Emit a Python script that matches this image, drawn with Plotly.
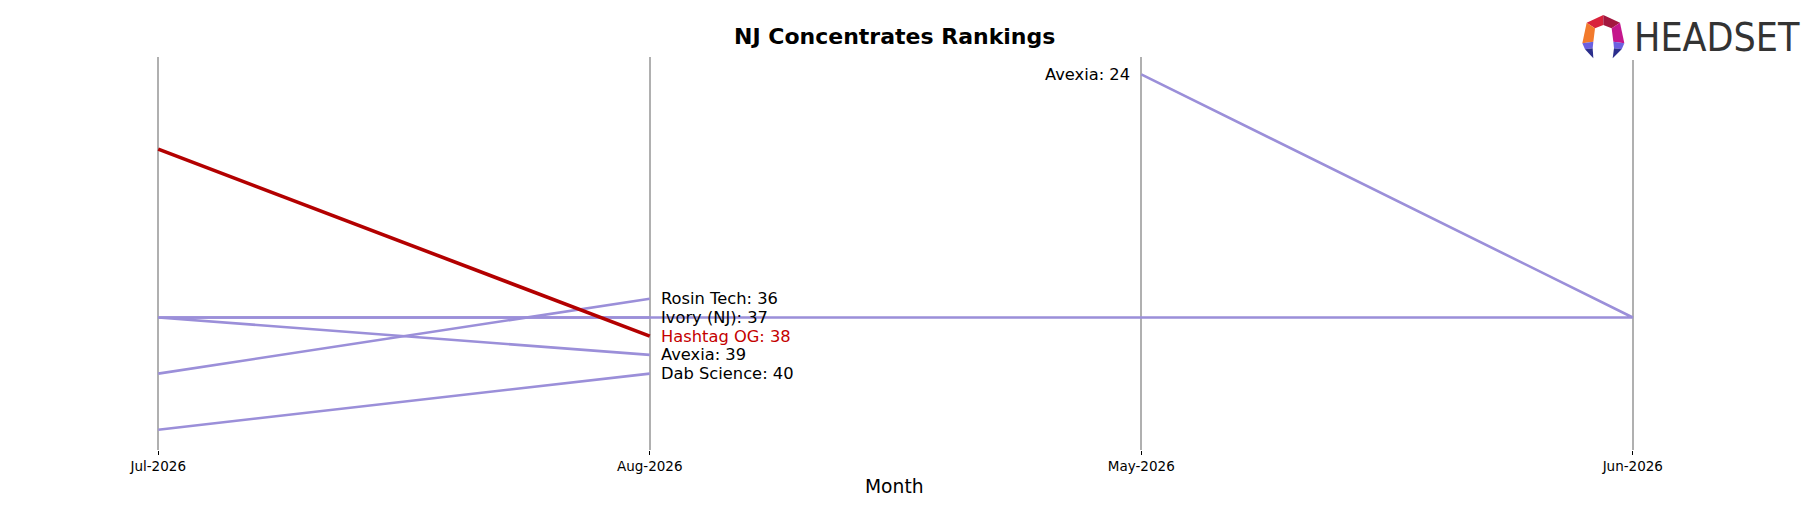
import plotly.graph_objects as go

# ---------------- data ----------------
months = ["Jul-2026", "Aug-2026", "May-2026", "Jun-2026"]

hashtag_x = ["Jul-2026", "Aug-2026"]
hashtag_y = [28, 38]

rosin_x = ["Jul-2026", "Aug-2026"]
rosin_y = [40, 36]

ivory_x = ["Jul-2026", "Aug-2026"]
ivory_y = [37, 37]

avexia_x = ["May-2026", "Jun-2026", "Jul-2026", "Aug-2026"]
avexia_y = [24, 37, 37, 39]

dab_x = ["Jul-2026", "Aug-2026"]
dab_y = [43, 40]

right_labels = [("Rosin Tech", 36), ("Ivory (NJ)", 37), ("Hashtag OG", 38),
                ("Avexia", 39), ("Dab Science", 40)]
left_labels = [("Avexia", 24)]
highlight = "Hashtag OG"

# ---------------- style ----------------
W, H = 1818, 506
ML, MR, MT, MB = 0, 0, 57, 56
PURPLE = "#9b8fd9"
RED = "#b30000"
LABEL_RED = "#c40000"
FONT = "DejaVu Sans"


def px_x(px):
    return (px - ML) / (W - ML - MR)


def px_y(py):
    return (H - MB - py) / (H - MT - MB)


fig = go.Figure()

for name, xs, ys in [("Rosin Tech", rosin_x, rosin_y),
                     ("Ivory (NJ)", ivory_x, ivory_y),
                     ("Avexia", avexia_x, avexia_y),
                     ("Dab Science", dab_x, dab_y)]:
    fig.add_trace(go.Scatter(x=xs, y=ys, mode="lines", name=name,
                             line=dict(color=PURPLE, width=2.6),
                             showlegend=False, hoverinfo="skip"))

fig.add_trace(go.Scatter(x=hashtag_x, y=hashtag_y, mode="lines", name="Hashtag OG",
                         line=dict(color=RED, width=3.6),
                         showlegend=False, hoverinfo="skip"))

annotations = []
for name, rank in right_labels:
    annotations.append(dict(
        x="Aug-2026", y=rank, xref="x", yref="y",
        text=f"{name}: {rank}", showarrow=False,
        xanchor="left", yanchor="middle", xshift=9,
        font=dict(family=FONT, size=16.3,
                  color=LABEL_RED if name == highlight else "black")))
for name, rank in left_labels:
    annotations.append(dict(
        x="May-2026", y=rank, xref="x", yref="y",
        text=f"{name}: {rank}", showarrow=False,
        xanchor="right", yanchor="middle", xshift=-9,
        font=dict(family=FONT, size=16.3,
                  color=LABEL_RED if name == highlight else "black")))

# title
annotations.append(dict(
    x=px_x(894.7), y=px_y(36.8), xref="paper", yref="paper",
    text="<b>NJ Concentrates Rankings</b>", showarrow=False,
    xanchor="center", yanchor="middle",
    font=dict(family=FONT, size=22, color="black")))
# x-axis title
annotations.append(dict(
    x=px_x(894.8), y=px_y(487), xref="paper", yref="paper",
    text="Month", showarrow=False, xanchor="center", yanchor="middle",
    font=dict(family=FONT, size=18.7, color="black")))
# logo text
annotations.append(dict(
    x=px_x(1632), y=px_y(37.5), xref="paper", yref="paper",
    text='<span style="font-stretch:condensed">HEADSET</span>',
    showarrow=False, xanchor="left", yanchor="middle",
    font=dict(family="DejaVu Sans Condensed, Liberation Sans Narrow, DejaVu Sans",
              size=39, color="#333333")))


# logo shapes (coordinates in zoom units of a 70x55 crop at (1570,10), 3x)
def lp(zx, zy):
    return px_x(1570 + zx / 3), px_y(10 + zy / 3)


def poly(points, color):
    pts = [lp(*p) for p in points]
    path = "M " + " L ".join(f"{x:.5f},{y:.5f}" for x, y in pts) + " Z"
    return dict(type="path", xref="paper", yref="paper", path=path,
                fillcolor=color, line=dict(width=0), layer="above")


shapes = [
    # white backdrop of the logo image
    dict(type="rect", xref="paper", yref="paper",
         x0=px_x(1572), x1=px_x(1812), y0=px_y(60), y1=px_y(8),
         fillcolor="white", line=dict(width=0), layer="above"),
    poly([(100, 15), (50, 38), (75, 55), (100, 45)], "#d9223b"),
    poly([(100, 15), (150, 38), (125, 55), (100, 45)], "#a3173f"),
    poly([(50, 38), (37, 100), (70, 95), (75, 55)], "#f27a2c"),
    poly([(150, 38), (163, 100), (130, 95), (125, 55)], "#c4168c"),
    poly([(37, 100), (70, 95), (68, 115), (45, 118)], "#6b60e0"),
    poly([(45, 118), (68, 115), (70, 145)], "#2b2e8c"),
    poly([(163, 100), (130, 95), (132, 115), (155, 118)], "#6b60e0"),
    poly([(155, 118), (132, 115), (128, 145)], "#2b2e8c"),
]

fig.update_layout(
    width=W, height=H,
    margin=dict(l=ML, r=MR, t=MT, b=MB, pad=0),
    paper_bgcolor="white", plot_bgcolor="white",
    annotations=annotations, shapes=shapes,
    font=dict(family=FONT),
    hovermode=False,
    xaxis=dict(type="category", categoryorder="array", categoryarray=months,
               range=[-0.3219, 3.3768], showgrid=True, gridcolor="#b0b0b0",
               gridwidth=2, zeroline=False, showline=False,
               ticks="outside", ticklen=4, tickcolor="black", tickwidth=1,
               tickfont=dict(family=FONT, size=13.5, color="black")),
    yaxis=dict(range=[44.085, 23.075], showgrid=False, zeroline=False,
               showline=False, showticklabels=False, ticks=""),
)

fig.write_html("out.html", config={"displayModeBar": False, "staticPlot": True},
               post_script="document.body.style.margin='0';document.body.style.overflow='hidden';")
